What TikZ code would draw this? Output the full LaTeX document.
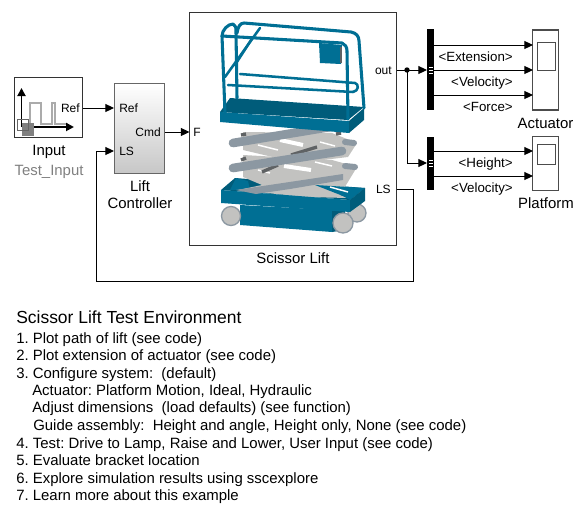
\documentclass[tikz,border=0pt]{standalone}
\usepackage{fontspec}
\setmainfont{Liberation Sans}
\usepackage{tikz}
\usetikzlibrary{arrows.meta}
\definecolor{customTeal}{HTML}{006F94}
\definecolor{customDarkTeal}{HTML}{005C7A}
\definecolor{customBar}{HTML}{8C98A2}
\definecolor{customLight}{HTML}{C2C2C0}
\definecolor{customDark}{HTML}{5F6264}
\definecolor{customGrey}{HTML}{808080}
\definecolor{customPulse}{HTML}{ABABAB}
\begin{document}
\frenchspacing
\begin{tikzpicture} [
    x=0.75pt, y=-0.75pt,
    block/.style={draw=black!80, fill=white, line width=0.8pt, inner sep=0pt},
    muxBar/.style={draw=none, fill=black, inner sep=0pt, minimum width=5.4pt},
    muxPort/.style={fill=white, draw=black, line width=0.4pt, inner sep=0pt, minimum width=4pt, minimum height=1.5pt},
    arrow/.style={line width=0.75pt, -{Triangle[length=6.5pt,width=6pt]}},
    axis/.style={line width=1.4pt, -{Triangle[length=6pt,width=6pt]}},
    caption/.style={font=\fontsize{11.2}{13}\selectfont, inner sep=0pt, anchor=base},
    port/.style={font=\fontsize{9}{11}\selectfont, inner sep=0pt},
    signal/.style={font=\fontsize{10}{12}\selectfont, inner sep=0pt, anchor=base east},
    textLine/.style={font=\fontsize{11.2}{13}\selectfont, inner sep=0pt, anchor=base west},
    rail/.style={draw=customTeal, line width=2.3pt, line join=round, line cap=round},
    thinRail/.style={draw=customTeal, line width=1.9pt, line join=round, line cap=round},
    frontBar/.style={draw=customBar, line width=6.5pt, line cap=round},
    gapThick/.style={draw=white, line width=3pt},
    gapThin/.style={draw=white, line width=1.1pt},
    wheel/.style={fill=customLight, draw=customBar, line width=1pt}
]
    \useasboundingbox (0, 0) rectangle (588, 518);

    % input
    \node[block, minimum width=51pt, minimum height=45.5pt] (inputBlock) at (48.5, 107.5) {};
    \draw[customPulse, line width=1.4pt] (22, 124) -- (30, 124) -- (30, 103) -- (41, 103) -- (41, 124) -- (52, 124) -- (52, 103) -- (55, 103) -- (55, 124) -- (68, 124);
    \draw[axis] (21.5, 127) -- (21.5, 88);
    \draw[axis] (21.5, 127) -- (74, 127);
    \fill[customGrey] (22, 123) rectangle (34, 136);
    \draw[black!60, line width=0.7pt] (17, 119) rectangle (28, 130);
    \node[port, anchor=base east] (inputRef) at (80, 112) {Ref};
    \node[caption] (inputLabel) at (49, 155) {Input};
    \node[caption, text=customGrey] (inputVariant) at (49, 175) {Test\_Input};

    % controller
    \node[block, draw=black!60, top color=white, bottom color=black!22, minimum width=38pt, minimum height=67pt] (controllerBlock) at (139.5, 128.5) {};
    \coordinate (inputOut) at (83, 108);
    \coordinate (controllerRefIn) at (114, 108);
    \coordinate (controllerLSIn) at (114, 151);
    \coordinate (controllerCmdOut) at (165, 132);
    \node[port, anchor=base west] (controllerRef) at (119, 112) {Ref};
    \node[port, anchor=base east] (controllerCmd) at (161, 136.5) {Cmd};
    \node[port, anchor=base west] (controllerLS) at (119, 155.5) {LS};
    \node[caption] (controllerLabel1) at (140, 191) {Lift};
    \node[caption] (controllerLabel2) at (140, 208) {Controller};

    % scissor lift
    \node[block, minimum width=155.5pt, minimum height=175pt] (liftBlock) at (293, 129) {};
    \coordinate (liftFIn) at (189.5, 132);
    \coordinate (liftOut) at (396.5, 70);
    \coordinate (liftLSOut) at (396.5, 189);
    \node[port, anchor=base west] (liftF) at (193, 136.5) {F};
    \node[port, anchor=base east] (liftOutLabel) at (392, 74) {out};
    \node[port, anchor=base east] (liftLS) at (391, 193) {LS};
    \node[caption] (liftLabel) at (293, 263) {Scissor Lift};

    % base
    \fill[wheel] (357, 213) circle (9);
    \fill[customTeal] (240, 205) -- (332, 210) -- (332, 232) -- (240, 225) -- cycle;
    \fill[customDarkTeal] (332, 210) -- (345, 210) -- (345, 230) -- (332, 232) -- cycle;
    \fill[customDarkTeal] (221, 190) -- (235, 178) -- (365, 188) -- (350, 200) -- cycle;
    \fill[customTeal] (230, 190) -- (236, 178) -- (248, 181) -- (250, 190) -- cycle;

    % scissors
    \fill[customLight] (243, 155) -- (332, 160) -- (357, 167) -- (340, 195) -- (348, 198) -- (305, 197) -- (238, 190) -- (262, 185) -- (243, 177) -- cycle;
    \fill[customLight] (243, 132) -- (332, 133) -- (357, 143) -- (348, 157) -- (298, 163) -- (243, 150) -- cycle;
    \fill[customTeal] (315, 185) -- (365, 188) -- (350, 200) -- (343, 196) -- cycle;
    \draw[gapThick] (280, 140) -- (303, 145);
    \draw[gapThin] (258, 145) -- (278, 150);
    \draw[gapThin] (320, 142) -- (335, 146);
    \draw[gapThick] (284, 166) -- (311, 170);
    \draw[gapThin] (315, 162) -- (332, 166);
    \draw[gapThin] (258, 170) -- (270, 173);
    \draw[gapThin] (330, 187) -- (348, 192);
    \draw[customDark, line width=2.5pt] (291, 155) -- (317, 147);
    \draw[customDark, line width=2.5pt] (262, 172) -- (278, 165);
    \draw[customDark, line width=2.5pt] (336, 134) -- (341, 133);
    \draw[customDark, line width=2.5pt] (241, 135) -- (246, 134);
    \draw[customDark, line width=2.5pt] (241, 160) -- (246, 158);
    \draw[frontBar, line width=4.5pt] (345, 142) -- (354, 143);
    \draw[frontBar, line width=4.5pt] (345, 166) -- (355, 167);
    \draw[frontBar] (233, 143) -- (330, 127);
    \draw[frontBar] (233, 168) -- (342, 151);
    \fill[customTeal] (221, 190) -- (350, 200) -- (350, 212) -- (221, 203) -- cycle;
    \fill[customDarkTeal] (350, 200) -- (365, 188) -- (365, 201) -- (350, 212) -- cycle;
    \fill[customBar] (236, 190) -- (343, 174) -- (343, 180) -- (290, 189) -- (256, 194) -- cycle;
    \fill[wheel] (231, 216) circle (9.5);
    \fill[wheel] (343, 223) circle (10);

    % platform
    \fill[customDarkTeal] (230, 98) -- (364, 107) -- (348, 120) -- (220, 112) -- cycle;
    \fill[customTeal] (220, 112) -- (349, 121) -- (349, 133) -- (220, 122) -- cycle;
    \fill[customDarkTeal] (349, 121) -- (364, 108) -- (364, 120) -- (349, 133) -- cycle;
    \fill[customTeal] (319, 43) -- (342, 45) -- (341, 64) -- (320, 63) -- cycle;
    \draw[customDark, line width=0.8pt] (341, 47) -- (341, 63);

    % rails
    \draw[rail] (222, 36) -- (342, 43) .. controls (345, 44) and (347, 47) .. (347, 51) -- (348, 119);
    \draw[rail] (222, 36) .. controls (222, 30) and (228, 24) .. (233, 24) .. controls (236, 25) and (236, 28) .. (236, 32) -- (237, 98);
    \draw[rail] (237, 33) .. controls (238, 27) and (240, 23) .. (244, 23) -- (351, 32) .. controls (356, 33) and (359, 36) .. (359, 41) -- (364, 108);
    \draw[rail] (222, 36) -- (225, 113);
    \draw[thinRail] (260, 28) -- (225, 77);
    \draw[thinRail] (253, 37) -- (235, 65);
    \draw[thinRail] (240, 74) -- (355, 83) .. controls (359, 84) and (359, 91) .. (353, 92);
    \draw[thinRail] (228, 85) -- (353, 92);

    % mux actuator
    \node[muxBar, minimum height=60.5pt] (muxActuator) at (430.5, 69.5) {};
    \coordinate (muxActuatorIn) at (427, 70);
    \node[muxPort] (muxActuatorPortA) at (430.5, 67) {};
    \node[muxPort] (muxActuatorPortB) at (430.5, 70) {};
    \node[muxPort] (muxActuatorPortC) at (430.5, 73) {};
    \coordinate (muxActuatorOutA) at (434, 45);
    \coordinate (muxActuatorOutB) at (434, 70);
    \coordinate (muxActuatorOutC) at (434, 95);

    % mux platform
    \node[muxBar, minimum height=40pt] (muxPlatform) at (430.5, 163.5) {};
    \coordinate (muxPlatformIn) at (427, 163);
    \node[muxPort] (muxPlatformPortA) at (430.5, 160) {};
    \node[muxPort] (muxPlatformPortB) at (430.5, 163) {};
    \node[muxPort] (muxPlatformPortC) at (430.5, 166) {};
    \coordinate (muxPlatformOutA) at (434, 151);
    \coordinate (muxPlatformOutB) at (434, 176);

    % scopes
    \node[block, minimum width=19pt, minimum height=60pt, draw=black!70] (scopeActuator) at (545.5, 70) {};
    \node[block, minimum width=13.5pt, minimum height=21pt, draw=black!70, line width=0.6pt] (screenActuator) at (546, 56) {};
    \coordinate (scopeActuatorInA) at (533, 45);
    \coordinate (scopeActuatorInB) at (533, 70);
    \coordinate (scopeActuatorInC) at (533, 95);
    \node[caption] (scopeActuatorLabel) at (545.5, 128) {Actuator};
    \node[block, minimum width=19pt, minimum height=41pt, draw=black!70] (scopePlatform) at (545.5, 163.5) {};
    \node[block, minimum width=13.5pt, minimum height=15pt, draw=black!70, line width=0.6pt] (screenPlatform) at (546, 154) {};
    \coordinate (scopePlatformInA) at (533, 151);
    \coordinate (scopePlatformInB) at (533, 176);
    \node[caption] (scopePlatformLabel) at (546, 208) {Platform};

    % connectors
    \draw[arrow] (inputOut) -- (controllerRefIn);
    \draw[arrow] (controllerCmdOut) -- (liftFIn);
    \draw[arrow] (liftOut) -- (muxActuatorIn);
    \coordinate (branchPoint) at (407, 70);
    \fill (branchPoint) circle (2.7);
    \coordinate (branchCorner) at (407, 163);
    \draw[arrow] (branchPoint) -- (branchCorner) -- (muxPlatformIn);
    \draw[arrow] (muxActuatorOutA) -- (scopeActuatorInA);
    \draw[arrow] (muxActuatorOutB) -- (scopeActuatorInB);
    \draw[arrow] (muxActuatorOutC) -- (scopeActuatorInC);
    \draw[arrow] (muxPlatformOutA) -- (scopePlatformInA);
    \draw[arrow] (muxPlatformOutB) -- (scopePlatformInB);
    \coordinate (feedbackA) at (413, 189);
    \coordinate (feedbackB) at (413, 281);
    \coordinate (feedbackC) at (96, 281);
    \coordinate (feedbackD) at (96, 151);
    \draw[arrow] (liftLSOut) -- (feedbackA) -- (feedbackB) -- (feedbackC) -- (feedbackD) -- (controllerLSIn);

    % signal labels
    \node[signal] (signalExtension) at (513, 61) {<Extension>};
    \node[signal] (signalVelocityA) at (513, 86) {<Velocity>};
    \node[signal] (signalForce) at (513, 111) {<Force>};
    \node[signal] (signalHeight) at (513, 167) {<Height>};
    \node[signal] (signalVelocityB) at (513, 192) {<Velocity>};

    % text
    \node[textLine, font=\fontsize{13.1}{15}\selectfont] (titleLine) at (16, 323) {Scissor Lift Test Environment};
    \node[textLine] (lineA) at (16, 343) {1. Plot path of lift (see code)};
    \node[textLine] (lineB) at (16, 360) {2. Plot extension of actuator (see code)};
    \node[textLine] (lineC) at (16, 378) {3. Configure system:~~(default)};
    \node[textLine] (lineD) at (32, 395) {Actuator: Platform Motion, Ideal, Hydraulic};
    \node[textLine] (lineE) at (32, 412.5) {Adjust dimensions~~(load defaults) (see function)};
    \node[textLine] (lineF) at (33, 430) {Guide assembly:~~Height and angle, Height only, None (see code)};
    \node[textLine] (lineG) at (16, 448) {4. Test: Drive to Lamp, Raise and Lower, User Input (see code)};
    \node[textLine] (lineH) at (16, 465) {5. Evaluate bracket location};
    \node[textLine] (lineI) at (16, 483) {6. Explore simulation results using sscexplore};
    \node[textLine] (lineJ) at (16, 500) {7. Learn more about this example};
\end{tikzpicture}
\end{document}
